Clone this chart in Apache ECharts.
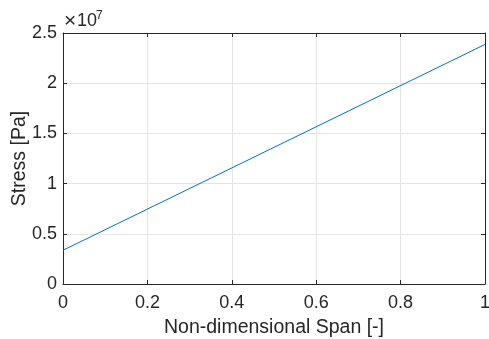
<!DOCTYPE html>
<html>
<head>
<meta charset="utf-8">
<script src="https://cdn.jsdelivr.net/npm/echarts@6/dist/echarts.min.js"></script>
<style>
html,body{margin:0;padding:0;background:#fff;}
#chart{width:489px;height:339px;}
</style>
</head>
<body>
<div id="chart"></div>
<script>
// Stress along the non-dimensional span
const span = [0, 1];
const stress = [3.36e6, 2.386e7];
const xTicks = [0, 0.2, 0.4, 0.6, 0.8, 1];
const yTicks = [0, 0.5, 1, 1.5, 2, 2.5];
const yScale = 1e7;

const FONT = '"Liberation Sans", Arial, Helvetica, sans-serif';
const AXIS = '#262626';
const GRID = '#e5e5e5';

const chart = echarts.init(document.getElementById('chart'), null, {renderer: 'canvas'});

const baseX = {
  type: 'value', min: xTicks[0], max: xTicks[xTicks.length - 1], interval: 0.2
};
const baseY = {
  type: 'value', min: yTicks[0] * yScale, max: yTicks[yTicks.length - 1] * yScale, interval: 0.5 * yScale
};

chart.setOption({
  animation: false,
  // exponent shown above the y axis: sign, base and superscript
  title: [
    {
      text: '×', left: 64, top: 11, padding: 0,
      textStyle: {fontFamily: FONT, fontSize: 21, fontWeight: 'normal', color: AXIS}
    },
    {
      text: '10', left: 77, top: 12, padding: 0,
      textStyle: {fontFamily: FONT, fontSize: 18, fontWeight: 'normal', color: AXIS}
    },
    {
      text: '7', left: 96, top: 10, padding: 0,
      textStyle: {fontFamily: FONT, fontSize: 12, fontWeight: 'normal', color: AXIS}
    }
  ],
  grid: {left: 63, right: 4, top: 33, bottom: 55, containLabel: false, outerBoundsMode: 'none'},
  xAxis: [
    Object.assign({}, baseX, {
      position: 'bottom',
      name: 'Non-dimensional Span [-]',
      nameLocation: 'middle',
      nameGap: 34,
      nameMoveOverlap: false,
      nameTextStyle: {fontFamily: FONT, fontSize: 19.5, color: AXIS},
      axisLine: {show: true, lineStyle: {color: AXIS, width: 1}},
      axisTick: {show: true, inside: true, length: 4, lineStyle: {color: AXIS}},
      axisLabel: {fontFamily: FONT, fontSize: 18, color: AXIS, margin: 10,
        formatter: v => String(Math.round(v * 10) / 10)},
      splitLine: {show: true, lineStyle: {color: GRID, width: 1}}
    }),
    Object.assign({}, baseX, {
      position: 'top',
      axisLine: {show: true, onZero: false, lineStyle: {color: AXIS, width: 1}},
      axisTick: {show: true, inside: true, length: 4, lineStyle: {color: AXIS}},
      axisLabel: {show: false},
      splitLine: {show: false}
    })
  ],
  yAxis: [
    Object.assign({}, baseY, {
      position: 'left',
      name: 'Stress [Pa]',
      nameLocation: 'middle',
      nameGap: 33,
      nameMoveOverlap: false,
      nameRotate: 90,
      nameTextStyle: {fontFamily: FONT, fontSize: 19.5, color: AXIS},
      axisLine: {show: true, lineStyle: {color: AXIS, width: 1}},
      axisTick: {show: true, inside: true, length: 4, lineStyle: {color: AXIS}},
      axisLabel: {fontFamily: FONT, fontSize: 18, color: AXIS, margin: 6,
        formatter: v => String(Math.round(v / yScale * 10) / 10)},
      splitLine: {show: true, lineStyle: {color: GRID, width: 1}}
    }),
    Object.assign({}, baseY, {
      position: 'right',
      axisLine: {show: true, onZero: false, lineStyle: {color: AXIS, width: 1}},
      axisTick: {show: true, inside: true, length: 4, lineStyle: {color: AXIS}},
      axisLabel: {show: false},
      splitLine: {show: false}
    })
  ],
  series: [{
    type: 'line',
    xAxisIndex: 0, yAxisIndex: 0,
    data: span.map((s, i) => [s, stress[i]]),
    showSymbol: false,
    lineStyle: {color: '#0072BD', width: 1},
    clip: true
  }]
});
</script>
</body>
</html>
